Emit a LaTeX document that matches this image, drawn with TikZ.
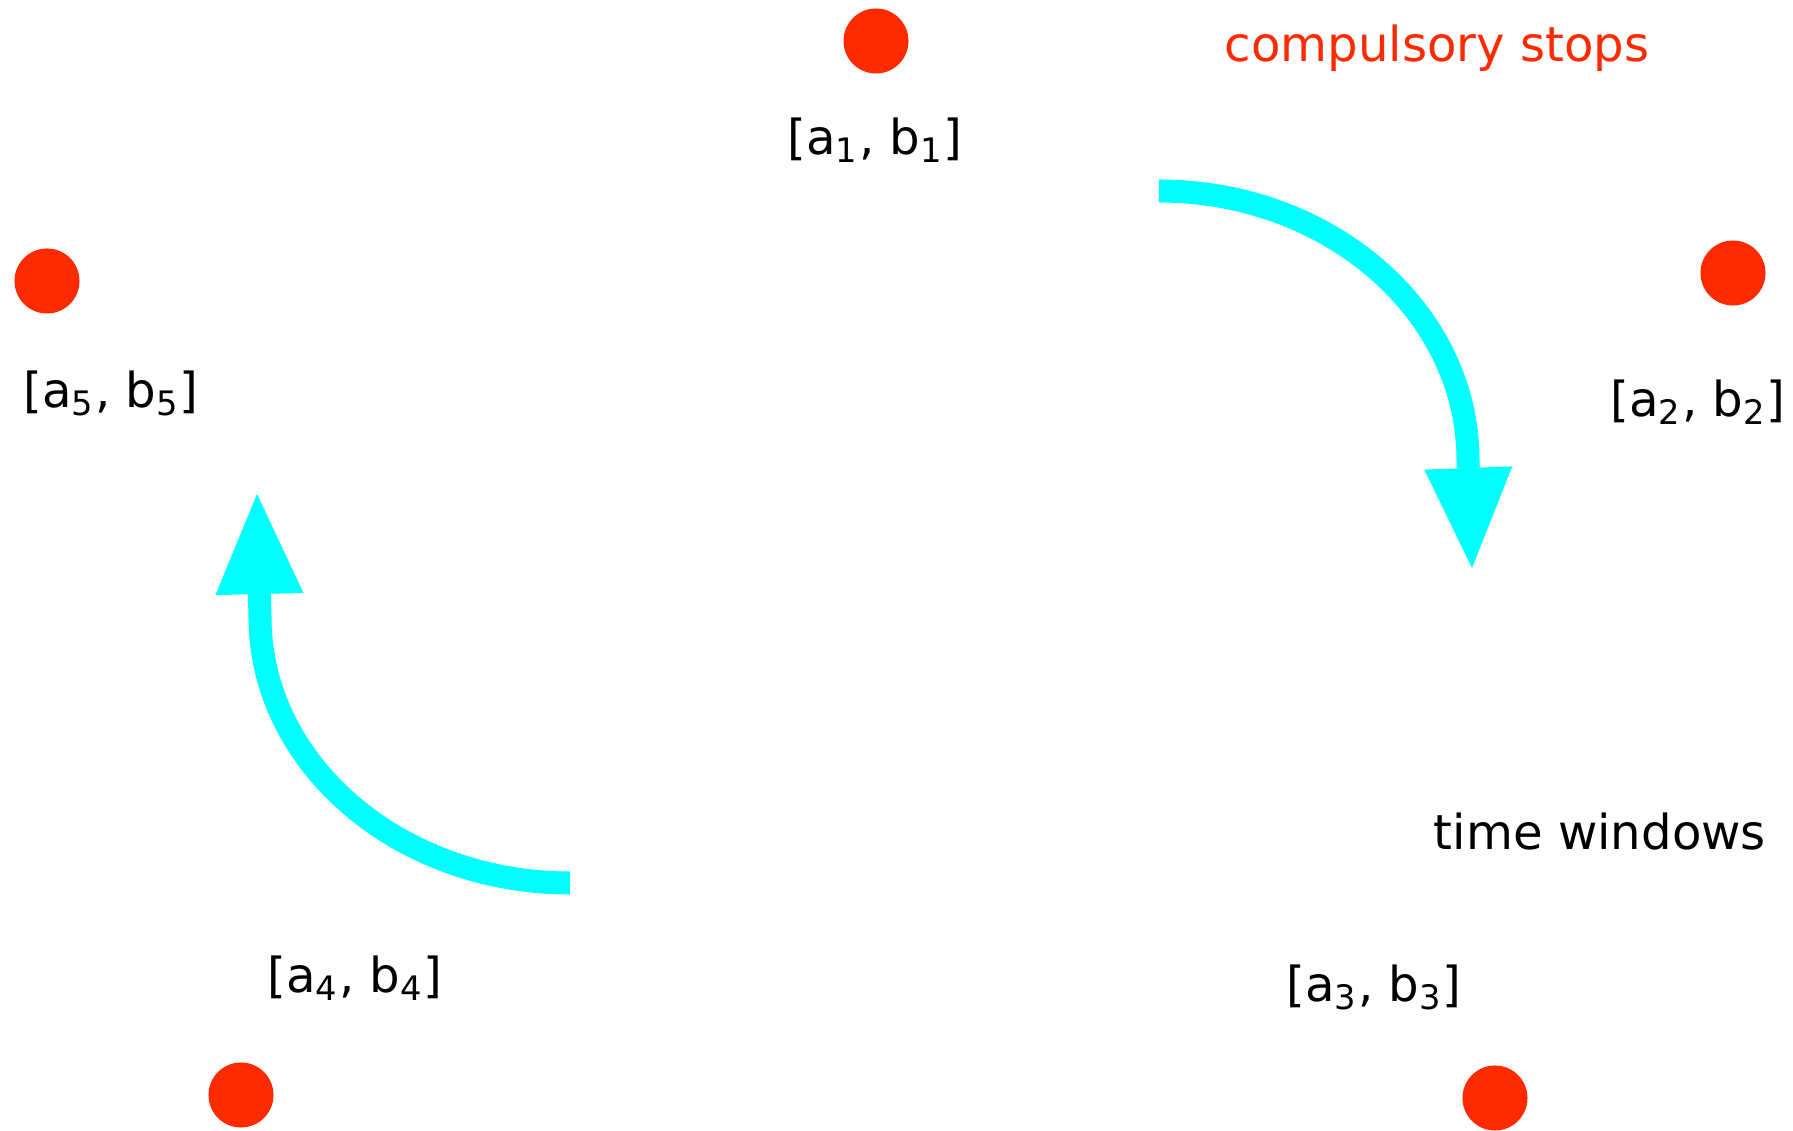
\documentclass[tikz,border=0pt]{standalone}
\usepackage{fontspec}
\setmainfont{DejaVu Sans}
\usepackage{xcolor}
\usetikzlibrary{arrows.meta}

\definecolor{stopred}{RGB}{255,42,0}
\definecolor{turncyan}{RGB}{0,255,255}
\newcommand{\winfont}{\fontsize{13.7pt}{16pt}\selectfont}

\begin{document}
\begin{tikzpicture}[
      x=0.01cm, y=-0.01cm,
      stopdot/.style={
         circle,
         fill=stopred,
         inner sep=0pt,
         minimum size=0.65cm},
      window/.style={anchor=base, inner sep=0pt, font=\winfont},
      turnarrow/.style={
         draw=turncyan,
         line width=0.23cm,
         -{Triangle[length=1cm,width=0.88cm,line width=0pt]}}
      ]
      \useasboundingbox (0,0) rectangle (1793,1131);

    \foreach \n/\dx/\dy/\lx/\ly in {% stop/dot x/dot y/label x/label baseline
      1/876/41/875/155,
      2/1733/273/1698/417,
      3/1495/1098/1374/1002,
      4/241/1095/355/993,
      5/47/281/111/408
      }
    {
       \node[stopdot] (s\n) at (\dx,\dy) {};
       \node[window] (w\n) at (\lx,\ly) {[a\textsubscript{\n}, b\textsubscript{\n}]};
    }

      \node[window, text=stopred] (stops) at (1437,62) {compulsory stops};
      \node[window] (windows) at (1600,850) {time windows};

      % the two turning arrows
      \coordinate (ra) at (1159,191);
      \coordinate (rb) at (1468,460);
      \coordinate (rtip) at (1472,568);
      \coordinate (la) at (570,883);
      \coordinate (lb) at (260,617);
      \coordinate (ltip) at (257,494);

      \draw[turnarrow] (ra) .. controls (1330,191) and (1468,312) .. (rb) -- (rtip);
      \draw[turnarrow] (la) .. controls (399,883) and (260,764) .. (lb) -- (ltip);

    \end{tikzpicture}
\end{document}
